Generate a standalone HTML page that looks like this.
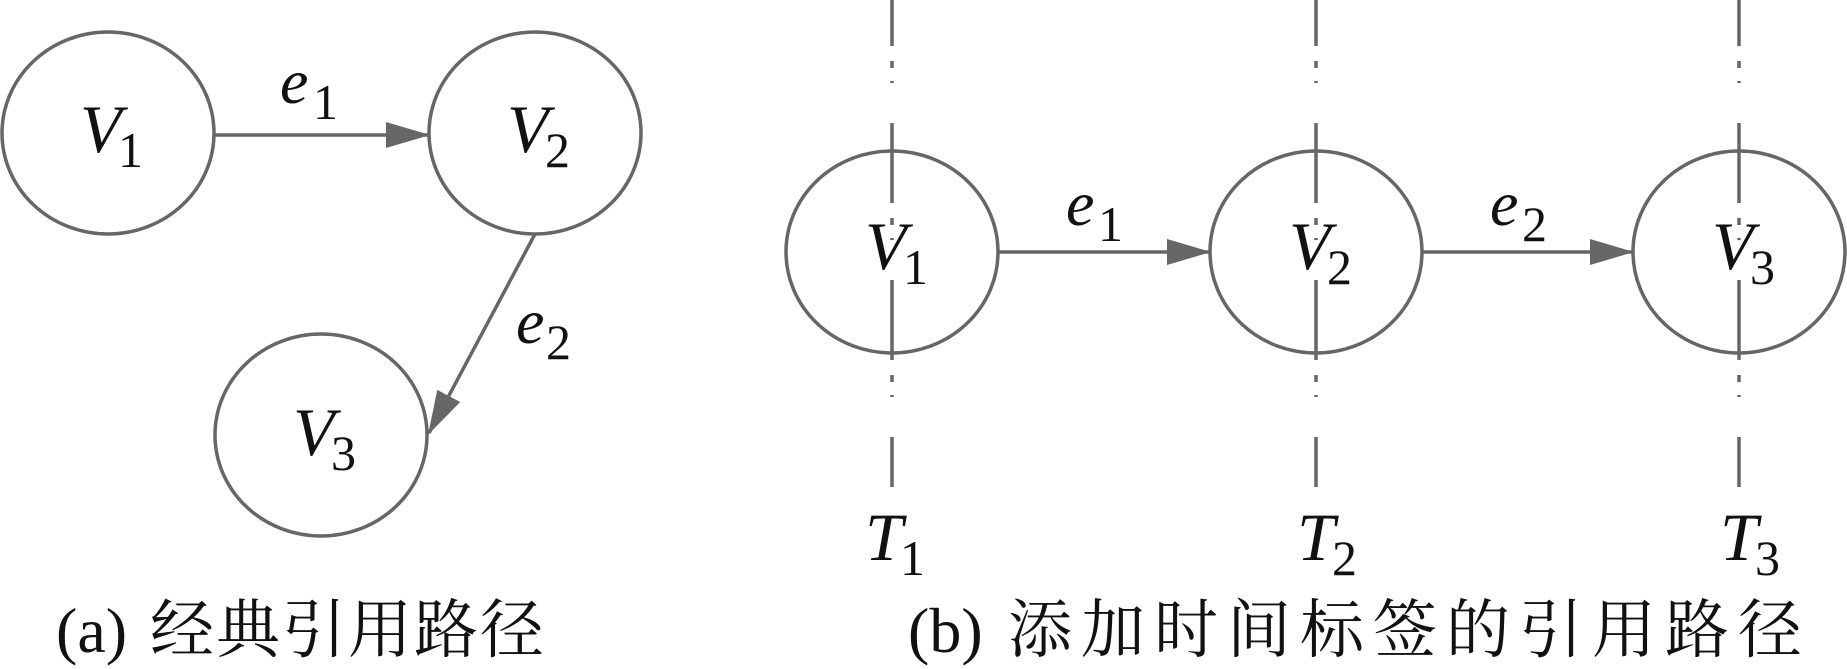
<!DOCTYPE html>
<html><head><meta charset="utf-8"><style>
html,body{margin:0;padding:0;background:#fff;}
svg{display:block;}
.s{font-family:"Liberation Serif","Times New Roman",Times,serif;font-style:italic;fill:#111;}
.n{font-family:"Liberation Serif","Times New Roman",Times,serif;fill:#111;}
.c{font-family:"Liberation Serif","Times New Roman","Noto Serif CJK SC",serif;fill:#111;font-size:64px;}
</style></head><body>
<svg width="1847" height="669" viewBox="0 0 1847 669" xmlns="http://www.w3.org/2000/svg">
<defs>
<marker id="a" markerWidth="44" markerHeight="28" refX="42" refY="13" orient="auto" markerUnits="userSpaceOnUse">
<path d="M0,0 L44,13 L0,26 Z" fill="#666"/>
</marker>
</defs>
<g stroke="#666" stroke-width="3.5" fill="none">
<ellipse cx="108" cy="133" rx="106" ry="101"/>
<ellipse cx="535" cy="133" rx="106" ry="101"/>
<ellipse cx="321" cy="435" rx="106" ry="101"/>
<line x1="215" y1="135" x2="428" y2="135" marker-end="url(#a)"/>
<line x1="535" y1="234" x2="429" y2="433" marker-end="url(#a)"/>
<g stroke-dasharray="80 15 7 13 2 40" stroke-dashoffset="34">
<line x1="892" y1="0" x2="892" y2="487"/>
<line x1="1316" y1="0" x2="1316" y2="487"/>
<line x1="1739" y1="0" x2="1739" y2="487"/>
</g>
<ellipse cx="892" cy="252" rx="106" ry="101"/>
<ellipse cx="1316" cy="252" rx="106" ry="101"/>
<ellipse cx="1739" cy="252" rx="106" ry="101"/>
<line x1="999" y1="252" x2="1209" y2="252" marker-end="url(#a)"/>
<line x1="1423" y1="252" x2="1632" y2="252" marker-end="url(#a)"/>
</g>
<text class="s" x="80" y="152" font-size="68">V</text><text class="n" x="118" y="167" font-size="50">1</text>
<text class="s" x="507" y="152" font-size="68">V</text><text class="n" x="545" y="167" font-size="50">2</text>
<text class="s" x="293" y="455" font-size="68">V</text><text class="n" x="331" y="470" font-size="50">3</text>
<text class="s" x="280" y="103" font-size="64">e</text><text class="n" x="313" y="119" font-size="50">1</text>
<text class="s" x="516" y="343" font-size="64">e</text><text class="n" x="546" y="359" font-size="50">2</text>
<text class="s" x="865" y="269" font-size="68">V</text><text class="n" x="903" y="284" font-size="50">1</text>
<text class="s" x="1289" y="269" font-size="68">V</text><text class="n" x="1327" y="284" font-size="50">2</text>
<text class="s" x="1712" y="269" font-size="68">V</text><text class="n" x="1750" y="284" font-size="50">3</text>
<text class="s" x="1066" y="225" font-size="64">e</text><text class="n" x="1098" y="241" font-size="50">1</text>
<text class="s" x="1490" y="225" font-size="64">e</text><text class="n" x="1522" y="241" font-size="50">2</text>
<text class="s" x="865" y="560" font-size="68">T</text><text class="n" x="900" y="575" font-size="50">1</text>
<text class="s" x="1297" y="560" font-size="68">T</text><text class="n" x="1332" y="575" font-size="50">2</text>
<text class="s" x="1720" y="560" font-size="68">T</text><text class="n" x="1755" y="575" font-size="50">3</text>
<text class="c" x="56" y="652">(a)<tspan x="150" letter-spacing="2">经典引用路径</tspan></text>
<text class="c" x="908" y="652">(b)<tspan x="1008" letter-spacing="9">添加时间标签的引用路径</tspan></text>
</svg>
</body></html>
